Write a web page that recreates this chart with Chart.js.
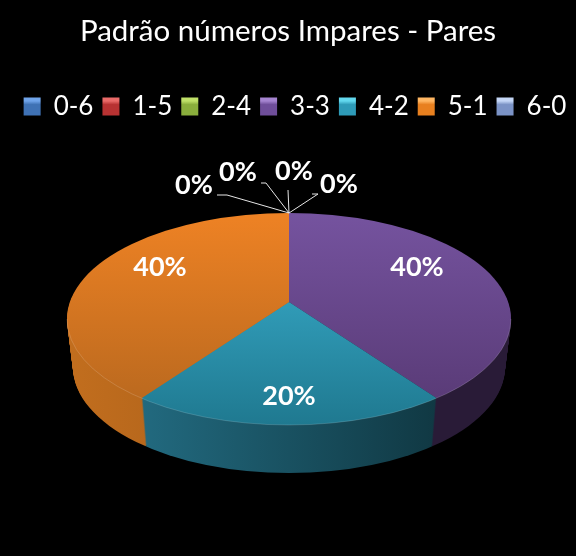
<!DOCTYPE html>
<html>
<head>
<meta charset="utf-8">
<title>Padrão números Impares - Pares</title>
<script src="https://cdn.jsdelivr.net/npm/chart.js@4"></script>
<style>
  html, body { margin: 0; padding: 0; background: #000; }
  canvas { display: block; }
</style>
</head>
<body>
<canvas id="grafico" width="576" height="556"></canvas>
<script>
const titulo = 'Padrão números Impares - Pares';
const categorias = ['0-6', '1-5', '2-4', '3-3', '4-2', '5-1', '6-0'];
const valores = [0, 0, 0, 40, 20, 40, 0];

// cores: legenda, topo (claro/escuro), lateral (esquerda/direita)
const corBase = ['#3f72b5', '#b83232', '#8aae3c', '#6f4e9a', '#2e9bb8', '#e8801f', '#7b93c6'];
const corClara = ['#6fa4ea', '#ea6a68', '#bfe068', '#a584d0', '#62d8ee', '#ffb662', '#c4d6f6'];
const topoClaro = ['#3f72b5', '#b83232', '#8aae3c', '#75539f', '#3db4d4', '#ee8224', '#7b93c6'];
const topoEscuro = ['#3f72b5', '#b83232', '#8aae3c', '#563872', '#1f7990', '#b4661e', '#7b93c6'];
const ladoEsq = ['#2a4d7a', '#7a2222', '#5d7528', '#291b37', '#26768e', '#c26e1e', '#4f6080'];
const ladoDir = ['#2a4d7a', '#7a2222', '#5d7528', '#291b37', '#0c2c34', '#8a4c14', '#4f6080'];

// posicao dos rotulos e linhas de chamada (os 0% ficam fora da pizza)
const rotuloPos = [[339, 184], [294, 171], [238, 172], [417, 267], [289, 396], [160, 267], [194, 185]];
const chamadas = [
  [[312, 194], [318, 194]],
  [[288, 190], [288, 190]],
  [[261, 183], [266, 183]],
  null, null, null,
  [[217, 195], [227, 195]]
];

// geometria da pizza em 3D
const cx = 289, cy = 319, rx = 222, ry = 106;
const apiceX = 289, apiceY = 302, achata = 0.473, altura = 48, encolhe = 0.00056;

function desenhaFatias(chart, k, pintar) {
  const ctx = chart.ctx;
  const arcos = chart.getDatasetMeta(0).data;
  const f = 1 - k * encolhe;
  ctx.save();
  ctx.beginPath();
  ctx.ellipse(cx, cy + k, rx * f, ry, 0, 0, Math.PI * 2);
  ctx.clip();
  arcos.forEach((arco, i) => {
    ctx.save();
    ctx.translate(apiceX, apiceY + k);
    ctx.scale(f, achata);
    ctx.translate(-arco.x, -arco.y);
    const antes = arco.options.backgroundColor;
    arco.options.backgroundColor = pintar(arco, i, f);
    arco.draw(ctx);
    arco.options.backgroundColor = antes;
    ctx.restore();
  });
  ctx.restore();
}

const pizza3d = {
  id: 'pizza3d',
  afterLayout(chart) {
    // legenda um pouco para a direita, como no original
    chart.legend.left += 7;
    chart.legend.right += 7;
  },
  beforeDatasetsDraw(chart) {
    const ctx = chart.ctx;
    // lateral empilhada de baixo para cima
    for (let k = altura; k >= 1; k--) {
      desenhaFatias(chart, k, (arco, i, f) => {
        const g = ctx.createLinearGradient(
          (cx - rx - apiceX) / f + arco.x, 0, (cx + rx - apiceX) / f + arco.x, 0);
        g.addColorStop(0, ladoEsq[i]);
        g.addColorStop(1, ladoDir[i]);
        return g;
      });
    }
    // topo
    desenhaFatias(chart, 0, (arco, i) => {
      const g = ctx.createLinearGradient(0, (cy - ry - apiceY) / achata + arco.y, 0, (cy + ry - apiceY) / achata + arco.y);
      g.addColorStop(0, topoClaro[i]);
      g.addColorStop(1, topoEscuro[i]);
      return g;
    });
    // brilho na borda da frente
    ctx.save();
    ctx.beginPath();
    ctx.ellipse(cx, cy, rx, ry, 0, 0, Math.PI);
    ctx.strokeStyle = 'rgba(255,255,255,0.15)';
    ctx.lineWidth = 1;
    ctx.stroke();
    ctx.restore();
    return false;
  },
  afterDraw(chart) {
    const ctx = chart.ctx;
    const total = valores.reduce((a, b) => a + b, 0);
    ctx.save();
    ctx.strokeStyle = '#e6e6e6';
    ctx.lineWidth = 1;
    chamadas.forEach(c => {
      if (!c) return;
      ctx.beginPath();
      ctx.moveTo(c[1][0], c[1][1]);
      ctx.lineTo(c[0][0], c[0][1]);
      ctx.moveTo(c[1][0], c[1][1]);
      ctx.lineTo(289, 213);
      ctx.stroke();
    });
    ctx.fillStyle = '#fff';
    ctx.font = 'bold 27px Lato';
    ctx.textAlign = 'center';
    ctx.textBaseline = 'middle';
    valores.forEach((v, i) => {
      ctx.fillText(Math.round(v / total * 100) + '%', rotuloPos[i][0], rotuloPos[i][1]);
    });
    ctx.restore();
  }
};

new Chart(document.getElementById('grafico'), {
  type: 'pie',
  data: {
    labels: categorias,
    datasets: [{
      data: valores,
      backgroundColor: corBase,
      borderWidth: 0
    }]
  },
  options: {
    responsive: false,
    animation: false,
    radius: 320,
    plugins: {
      tooltip: { enabled: false },
      title: {
        display: true,
        text: titulo,
        color: '#fff',
        font: { family: 'Lato', size: 29.5, weight: 'normal' },
        padding: { top: 14, bottom: 35 }
      },
      legend: {
        position: 'top',
        labels: {
          color: '#fff',
          font: { family: 'Lato', size: 26 },
          boxWidth: 17,
          boxHeight: 18,
          padding: 9,
          generateLabels(chart) {
            return categorias.map((nome, i) => {
              const g = chart.ctx.createLinearGradient(0, 97, 0, 115);
              g.addColorStop(0, corClara[i]);
              g.addColorStop(0.22, corClara[i]);
              g.addColorStop(0.42, corBase[i]);
              g.addColorStop(1, corBase[i]);
              return { text: nome, fillStyle: g, strokeStyle: g, fontColor: '#fff', lineWidth: 0, index: i };
            });
          }
        }
      }
    }
  },
  plugins: [pizza3d]
});
</script>
</body>
</html>
